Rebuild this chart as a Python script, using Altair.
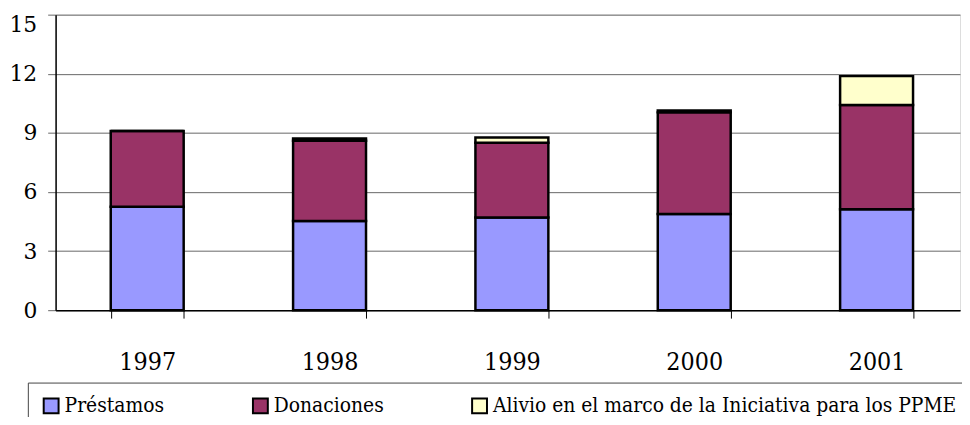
import altair as alt
import pandas as pd

years = ["1997", "1998", "1999", "2000", "2001"]
series = ["Préstamos", "Donaciones", "Alivio en el marco de la Iniciativa para los PPME"]
prestamos = [5.25, 4.53, 4.70, 4.88, 5.12]
donaciones = [3.85, 4.07, 3.80, 5.16, 5.30]
alivio = [0.0, 0.12, 0.27, 0.10, 1.46]
colors = ["#9999FF", "#993366", "#FFFFCC"]
y_ticks = [0, 3, 6, 9, 12, 15]

rows = []
for i, y in enumerate(years):
    for k, (s, vals) in enumerate(zip(series, [prestamos, donaciones, alivio])):
        rows.append({"Año": y, "Serie": s, "Valor": vals[i], "orden": k})
df = pd.DataFrame(rows)

FONT_C = "'DejaVu Serif Condensed', 'DejaVu Serif', serif"
FONT = "'DejaVu Serif', serif"

chart = alt.Chart(df).mark_bar(stroke="black", strokeWidth=2.5).encode(
    x=alt.X("Año:N", sort=years, title=None,
            scale=alt.Scale(paddingInner=0.6, paddingOuter=0.28, align=0.54),
            axis=alt.Axis(labelAngle=0, labelFont=FONT_C, labelFontSize=25, labelColor="black",
                          tickBand="extent", tickSize=8, tickColor="black",
                          domainColor="black", domainWidth=1.5, labelPadding=32, grid=False)),
    y=alt.Y("Valor:Q", stack="zero", title=None,
            scale=alt.Scale(domain=[0, 15], nice=False),
            axis=alt.Axis(values=y_ticks, labelFont=FONT, labelFontSize=22, labelColor="black",
                          labelBaseline=alt.ExprRef("datum.value == 15 ? 'top' : 'middle'"),
                          tickSize=8, tickColor="#666", domainColor="black", domainWidth=1.5,
                          gridColor="#666", gridWidth=1, gridOpacity=1, labelPadding=11)),
    color=alt.Color("Serie:N", sort=series,
                    scale=alt.Scale(domain=series, range=colors),
                    legend=alt.Legend(title=None, orient="none", legendX=-28, legendY=371,
                                      direction="horizontal", columns=3, columnPadding=85,
                                      symbolType="square", symbolSize=225,
                                      symbolStrokeColor="black", symbolStrokeWidth=2,
                                      symbolOpacity=1,
                                      labelFont=FONT_C, labelFontSize=21, labelColor="black",
                                      labelLimit=0, labelOffset=3,
                                      padding=13, strokeColor="#444", fillColor="white")),
    order=alt.Order("orden:Q"),
).properties(
    width=912, height=298,
    autosize=alt.AutoSizeParams(type="none"),
    padding={"left": 48, "top": 5, "right": 2, "bottom": 106},
).configure_view(stroke=None).configure(background="white")

chart.save("out.html", embed_options={"renderer": "svg", "actions": False})
